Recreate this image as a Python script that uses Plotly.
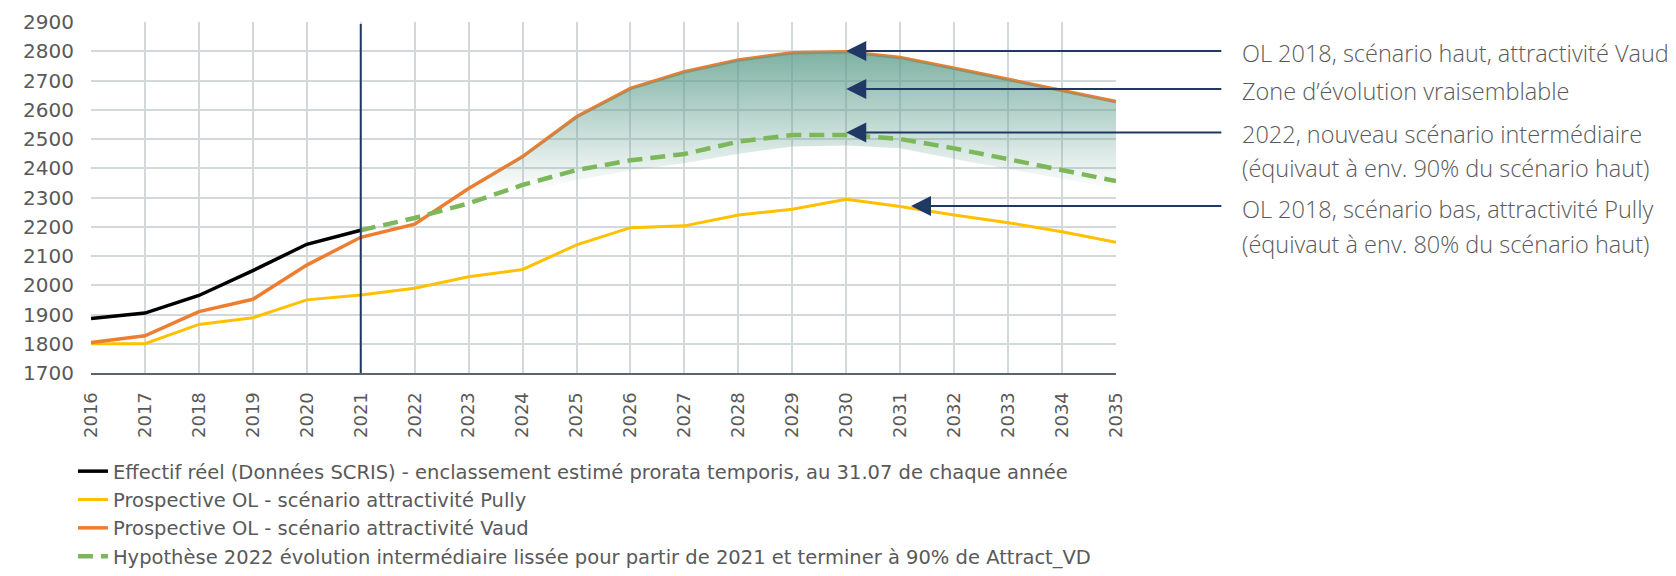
import plotly.graph_objects as go

# ---------------- data ----------------
years = list(range(2016, 2036))
years_reel = list(range(2016, 2022))
effectif_reel = [1886, 1905, 1965, 2050, 2140, 2188]
pully = [1800, 1800, 1866, 1889, 1950, 1967, 1990, 2029, 2054, 2138,
         2197, 2203, 2240, 2260, 2294, 2269, 2240, 2214, 2183, 2147]
vaud = [1804, 1827, 1910, 1952, 2069, 2164, 2209, 2331, 2440, 2576,
        2673, 2730, 2770, 2795, 2798, 2779, 2742, 2704, 2668, 2628]
years_hyp = list(range(2021, 2036))
hypothese = [2188, 2230, 2280, 2343, 2394, 2427, 2449, 2491, 2514, 2514,
             2500, 2468, 2431, 2394, 2356]
years_zone = list(range(2022, 2036))
zone_bas = [2209, 2270, 2320, 2360, 2392, 2417, 2450, 2474, 2478, 2468,
            2432, 2398, 2364, 2330]
zone_haut = vaud[6:]

legend_names = [
    "Effectif réel (Données SCRIS) - enclassement estimé prorata temporis, au 31.07 de chaque année",
    "Prospective OL - scénario attractivité Pully",
    "Prospective OL - scénario attractivité Vaud",
    "Hypothèse 2022 évolution intermédiaire lissée pour partir de 2021 et terminer à 90% de Attract_VD",
]
y_ticks = list(range(1700, 3000, 100))
reference_year = 2021

# arrow targets (year, value) and callout texts
arrow_targets = [(2030, 2801), (2030, 2671), (2030, 2522), (2031.2, 2271)]
callout_lines = [
    ("OL 2018, scénario haut, attractivité Vaud", 2795),
    ("Zone d’évolution vraisemblable", 2663),
    ("2022, nouveau scénario intermédiaire", 2516),
    ("(équivaut à env. 90% du scénario haut)", 2402),
    ("OL 2018, scénario bas, attractivité Pully", 2259),
    ("(équivaut à env. 80% du scénario haut)", 2140),
]

# ---------------- styles ----------------
GRID = "#D3D8DB"
TXT = "#595959"
NAVY = "#1F3864"
TEAL_TOP = "rgba(94,158,140,0.8)"
TEAL_BOT = "rgba(94,158,140,0.0)"

fig = go.Figure()
fig.add_trace(go.Scatter(x=years_reel, y=effectif_reel, mode="lines",
                         name=legend_names[0],
                         line=dict(color="#000000", width=3.5)))
fig.add_trace(go.Scatter(x=years, y=pully, mode="lines", name=legend_names[1],
                         line=dict(color="#FFC000", width=3)))
fig.add_trace(go.Scatter(x=years, y=vaud, mode="lines", name=legend_names[2],
                         line=dict(color="#ED7D31", width=3.5)))
# likely evolution zone (gradient fill)
fig.add_trace(go.Scatter(x=years_zone, y=zone_bas, mode="lines",
                         line=dict(width=0, color="rgba(0,0,0,0)"),
                         showlegend=False, hoverinfo="skip"))
fig.add_trace(go.Scatter(x=years_zone, y=zone_haut, mode="lines",
                         line=dict(width=0, color="rgba(0,0,0,0)"),
                         fill="tonexty",
                         fillgradient=dict(type="vertical",
                                           colorscale=[[0, TEAL_BOT], [1, TEAL_TOP]],
                                           start=2320, stop=max(zone_haut)),
                         showlegend=False, hoverinfo="skip"))
fig.add_trace(go.Scatter(x=years_hyp, y=hypothese, mode="lines", name=legend_names[3],
                         line=dict(color="#7DB75B", width=4.5, dash="15px,8px")))

fig.add_shape(type="line", xref="x", yref="y", x0=reference_year, x1=reference_year,
              y0=y_ticks[0], y1=y_ticks[-1] - 7, line=dict(color=NAVY, width=2))

annotations = []
for (tx, ty) in arrow_targets:
    annotations.append(dict(x=tx, y=ty, xref="x", yref="y", ax=2036.98, ay=ty,
                            axref="x", ayref="y", text="", showarrow=True,
                            arrowhead=2, arrowsize=2, arrowwidth=2,
                            arrowcolor=NAVY))
for (t, ty) in callout_lines:
    annotations.append(dict(x=1.121, y=ty, xref="paper", yref="y", text=t,
                            showarrow=False, xanchor="left", yanchor="middle",
                            font=dict(family="Open Sans", size=23.5, color=TXT, weight=300)))

# the page body adds an 8px offset: margins compensate for it
fig.update_layout(
    width=1668, height=568,
    margin=dict(l=83, r=560, t=14, b=203, autoexpand=False),
    paper_bgcolor="white", plot_bgcolor="white",
    annotations=annotations,
    showlegend=True,
    legend=dict(x=-0.0176, y=-0.225, xanchor="left", yanchor="top",
                traceorder="normal",
                font=dict(family="DejaVu Sans", size=19.5, color=TXT),
                bgcolor="rgba(0,0,0,0)", tracegroupgap=0),
    xaxis=dict(range=[2016, 2035], tickvals=years, ticktext=[str(y) for y in years],
               tickangle=-90, showgrid=True, gridcolor=GRID, gridwidth=2,
               showline=True, linecolor="#59646B", linewidth=2, zeroline=False,
               ticks="", ticklabelstandoff=10, automargin=False,
               tickfont=dict(family="DejaVu Sans", size=18, color=TXT)),
    yaxis=dict(range=[y_ticks[0], y_ticks[-1]], tickvals=y_ticks, showgrid=True,
               gridcolor=GRID, gridwidth=2, zeroline=False, showline=False,
               ticks="", ticklabelstandoff=16, automargin=False,
               tickfont=dict(family="DejaVu Sans", size=20, color=TXT)),
)

fig.write_html("out.html")
